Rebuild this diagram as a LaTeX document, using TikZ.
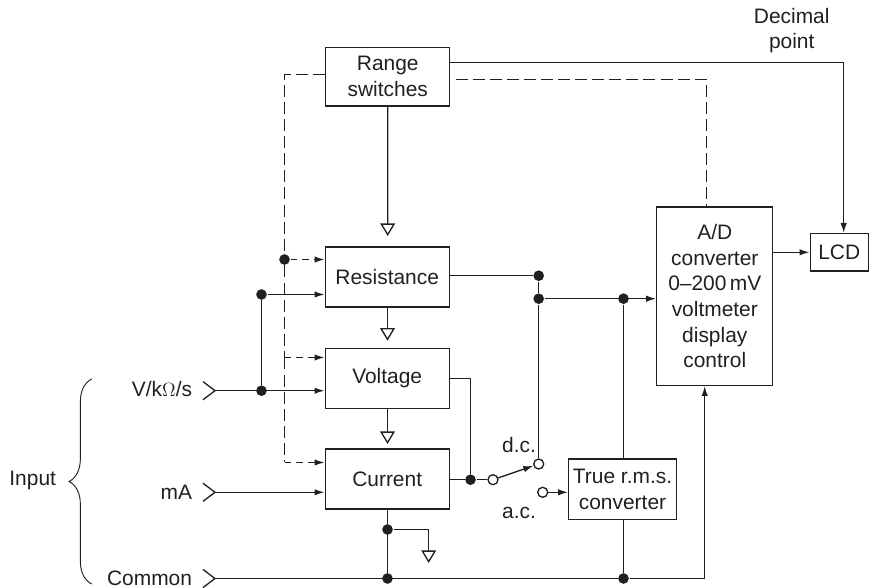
\documentclass[tikz,border=0pt]{standalone}
\usepackage{fontspec}
\setmainfont{Liberation Sans}
\usetikzlibrary{arrows.meta, decorations.pathreplacing}
\definecolor{inkgrey}{RGB}{35, 31, 32}

\begin{document}
\begin{tikzpicture}[
  x=0.75pt, y=-0.75pt, color=inkgrey, line width=1pt,
  every node/.style={font=\fontsize{15.7}{19.2}\selectfont, align=center},
  block/.style={draw, inner sep=0pt},
  tag/.style={inner sep=0pt},
  dot/.style={circle, fill, inner sep=0pt, minimum size=8pt},
  hole/.style={circle, draw, fill=white, inner sep=0pt, minimum size=7.5pt},
  sig/.style={-{Latex[length=7.5pt,width=4.8pt]}},
  ctlline/.style={dash pattern=on 9pt off 3.8pt},
  ctl/.style={sig, dash pattern=on 5pt off 3.8pt},
  cas/.style={-{Triangle[open,length=9.4pt,width=11pt]}}
]
  \useasboundingbox (0,0) rectangle (869,588);

  % blocks
  \node[block, minimum width=93pt, minimum height=44pt] (range) at (387.8,76.7) {Range\\switches};
  \node[block, minimum width=93pt, minimum height=45pt] (resist) at (387.2,277) {Resistance};
  \node[block, minimum width=93pt, minimum height=45pt] (volt) at (387.2,378.5) {Voltage};
  \node[block, minimum width=93pt, minimum height=45pt] (curr) at (387.2,479) {Current};
  \node[block, minimum width=87pt, minimum height=133.7pt] (adc) at (714.8,296.2) {A/D\\converter\\0--200\,mV\\voltmeter\\display\\control};
  \node[block, minimum width=43.5pt, minimum height=28pt] (lcd) at (839.2,252.3) {LCD};
  \node[block, minimum width=80.7pt, minimum height=45.2pt] (rms) at (622.5,489.2) {True r.m.s.\\converter};

  % labels
  \node[tag] (decimal) at (791.7,30.5) {Decimal\\point};
  \node[tag] (dclabel) at (519,445) {d.c.};
  \node[tag] (aclabel) at (519,513) {a.c.};
  \node[tag] (input) at (32.7,480) {Input};
  \node[tag, anchor=east] (vlabel) at (192.7,389) {V/k$\Omega$/s};
  \node[tag, anchor=east] (malabel) at (192.7,492) {mA};
  \node[tag, anchor=east] (comlabel) at (192.7,578) {Common};

  % junctions and switch contacts
  \node[dot] (jtop) at (284.5,259.5) {};
  \node[dot] (jsig) at (261.5,294.5) {};
  \node[dot] (jvin) at (261.5,390.7) {};
  \node[dot] (jres) at (538.7,275.7) {};
  \node[dot] (jadc) at (538.7,298.7) {};
  \node[dot] (jrms) at (623.5,298.7) {};
  \node[dot] (jsw) at (470.5,479.7) {};
  \node[dot] (jcur) at (387.5,529.5) {};
  \node[dot] (jcom) at (387.5,578.5) {};
  \node[dot] (jret) at (623.5,578.5) {};
  \node[hole] (swpole) at (493,479.7) {};
  \node[hole] (swdc) at (538.7,464) {};
  \node[hole] (swac) at (542.7,492.3) {};

  % input terminals
  \coordinate (vin) at (215,390.7);
  \coordinate (main) at (215,492.3);
  \coordinate (com) at (215,578.5);
  \foreach \pin in {vin, main, com}
    \draw ([xshift=-9pt,yshift=6.8pt]\pin) -- (\pin) -- ([xshift=-9pt,yshift=-6.8pt]\pin);

  % brace
  \draw[decorate, decoration={brace, amplitude=17pt}, line width=0.7pt] (91.7,584) -- (91.7,379);

  % signal paths
  \draw[sig] (vin) -- (vin -| volt.west);
  \draw[sig] (main) -- (main -| curr.west);
  \draw (jvin) -- (jsig);
  \draw[sig] (jsig) -- (jsig -| resist.west);
  \draw (resist.east |- jres) -- (jres);
  \draw (jres) -- (jadc);
  \draw[sig] (jadc) -- (jadc -| adc.west);
  \draw (jadc) -- (swdc);
  \draw (jrms) -- (jrms |- rms.north);
  \draw (rms.south -| jret) -- (jret);
  \draw (volt.east) -- (jsw |- volt.east) -- (jsw);
  \draw (curr.east |- jsw) -- (jsw) -- (swpole);
  \draw[sig] (swpole) -- (swdc);
  \draw[sig] (swac) -- (swac -| rms.west);
  \draw[sig] (adc.east |- lcd.west) -- (lcd.west);

  % common rail
  \draw (com) -- (jret);
  \coordinate (railend) at (704.7,578.5);
  \draw[sig] (jret) -- (railend) -- (railend |- adc.south);
  \draw (jcom |- curr.south) -- (jcom);

  % decimal point line
  \coordinate (dpcorner) at (843.7,62.3);
  \draw[sig] (range.east |- dpcorner) -- (dpcorner) -- (dpcorner |- lcd.north);

  % range control
  \coordinate (rngleft) at (284.5,74.5);
  \coordinate (voltctl) at (284.5,357.5);
  \coordinate (currctl) at (284.5,462.5);
  \draw[ctlline] (range.west |- rngleft) -- (rngleft) -- (jtop);
  \draw[ctl] (jtop) -- (jtop -| resist.west);
  \draw[ctlline] (jtop) -- (voltctl);
  \draw[ctl] (voltctl) -- (voltctl -| volt.west);
  \draw[ctlline] (voltctl) -- (currctl);
  \draw[ctl] (currctl) -- (currctl -| curr.west);
  \coordinate (adcstart) at (455.7,79.5);
  \coordinate (adcorner) at (706.5,79.5);
  \draw[ctlline] (adcstart) -- (adcorner) -- (adcorner |- adc.north);

  % cascade arrows
  \coordinate (tipres) at (387.7,236);
  \coordinate (tipvolt) at (387.5,340.7);
  \coordinate (tipcurr) at (387.5,444);
  \coordinate (tipgnd) at (428.7,563);
  \draw[cas] (range.south) -- (tipres);
  \draw[cas] (tipvolt |- resist.south) -- (tipvolt);
  \draw[cas] (tipcurr |- volt.south) -- (tipcurr);
  \draw[cas] (jcur) -| (tipgnd);
\end{tikzpicture}
\end{document}
